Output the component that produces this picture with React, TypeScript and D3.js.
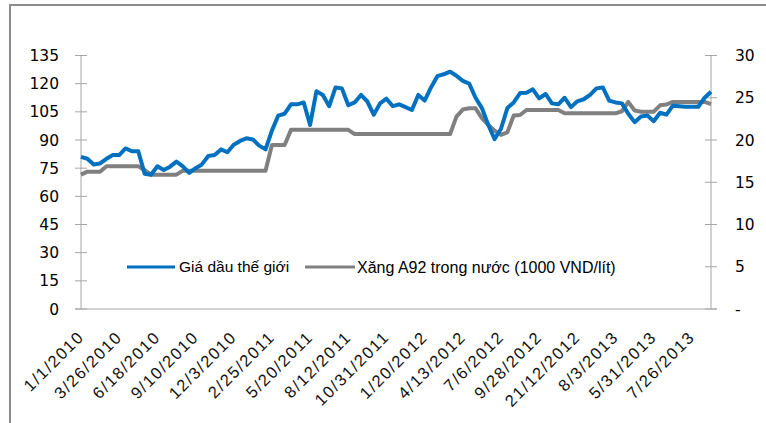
import React from 'react';
import * as d3 from 'd3';

// Category tick labels (every 6th point of the series)
const tickLabels = [
  '1/1/2010', '3/26/2010', '6/18/2010', '9/10/2010', '12/3/2010', '2/25/2011',
  '5/20/2011', '8/12/2011', '10/31/2011', '1/20/2012', '4/13/2012', '7/6/2012',
  '9/28/2012', '21/12/2012', '8/3/2013', '5/31/2013', '7/26/2013',
];
const labelStep = 6;

// Giá dầu thế giới (left axis)
const oilPrice = [
  81, 80, 77, 77.5, 80, 82, 82, 85.5, 84, 84,
  72, 71.5, 76, 74, 75.8, 78.5, 76, 72.5, 75, 77,
  81.5, 82, 85, 83.5, 87.5, 89.5, 90.9, 90.3, 87, 85,
  95, 103, 104, 109, 109, 110, 98, 116, 114, 108,
  118, 117.5, 108.5, 110, 114, 110.5, 103.5, 109.5, 112, 108,
  109, 107.5, 106, 114, 111, 118, 124, 125, 126.4, 124.2,
  121.5, 120, 112.5, 107, 98, 90.5, 96, 107, 110, 115,
  115.2, 117, 112.2, 114.5, 109.5, 109, 112.5, 107.5, 110.6, 111.7,
  114, 117.5, 118, 111, 110, 109.5, 104, 99.5, 102.5, 103,
  100, 104.5, 103.5, 108.3, 108, 107.7, 107.7, 107.7, 112.5, 115.7,
];

// Xăng A92 trong nước, 1000 VND/lít (right axis)
const gasPrice = [
  15.9, 16.25, 16.25, 16.25, 16.9, 16.9, 16.9, 16.9, 16.9, 16.9,
  16.45, 15.9, 15.9, 15.9, 15.9, 15.9, 16.37, 16.37, 16.37, 16.37,
  16.37, 16.37, 16.37, 16.37, 16.37, 16.37, 16.37, 16.37, 16.37, 16.37,
  19.4, 19.4, 19.4, 21.2, 21.2, 21.2, 21.2, 21.2, 21.2, 21.2,
  21.2, 21.2, 21.2, 20.7, 20.7, 20.7, 20.7, 20.7, 20.7, 20.7,
  20.7, 20.7, 20.7, 20.7, 20.7, 20.7, 20.7, 20.7, 20.7, 22.76,
  23.6, 23.75, 23.75, 22.6, 21.8, 21.1, 20.6, 20.9, 22.9, 22.96,
  23.55, 23.55, 23.55, 23.55, 23.55, 23.55, 23.16, 23.16, 23.16, 23.16,
  23.16, 23.16, 23.16, 23.16, 23.16, 23.4, 24.5, 23.5, 23.35, 23.35,
  23.35, 24.1, 24.2, 24.5, 24.5, 24.5, 24.5, 24.5, 24.5, 24.25,
];

const leftTicks = [0, 15, 30, 45, 60, 75, 90, 105, 120, 135];
const rightTicks = [0, 5, 10, 15, 20, 25, 30];

const seriesNames = ['Giá dầu thế giới', 'Xăng A92 trong nước (1000 VND/lít)'];
const colors = ['#0070C0', '#808080'];

export default function App() {
  const W = 766, H = 423;
  const x0 = 81, x1 = 711, yTop = 55.5, yBot = 309;
  const n = oilPrice.length;
  const x = d3.scaleLinear().domain([0, n - 1]).range([x0, x1]);
  const yL = d3.scaleLinear().domain([0, 135]).range([yBot, yTop]);
  const yR = d3.scaleLinear().domain([0, 30]).range([yBot, yTop]);

  const lineL = d3.line<number>().x((_, i) => x(i)).y(d => yL(d));
  const lineR = d3.line<number>().x((_, i) => x(i)).y(d => yR(d));

  const axisColor = '#a6a6a6';
  const numFont = 'DejaVu Sans, Verdana, sans-serif';
  const lblFont = 'Liberation Sans, Arial, sans-serif';

  return (
    <svg width={W} height={H} style={{ position: 'absolute', left: 0, top: 0, background: '#fff' }}>
      <rect x={0} y={0} width={W} height={H} fill="#fff" />
      {/* outer frame */}
      <rect x={10} y={5} width={900} height={600} fill="none" stroke="#8c8c8c" strokeWidth={2} />

      {/* left axis */}
      <line x1={x0} x2={x0} y1={yTop} y2={yBot} stroke={axisColor} strokeWidth={1} />
      {leftTicks.map(t => (
        <g key={'l' + t}>
          <line x1={x0 - 6} x2={x0 + 6} y1={yL(t)} y2={yL(t)} stroke={axisColor} />
          <text x={59} y={yL(t)} dy="0.36em" textAnchor="end" fontFamily={numFont} fontSize={15.5} fill="#000">{t}</text>
        </g>
      ))}

      {/* right axis */}
      <line x1={x1} x2={x1} y1={yTop} y2={yBot} stroke={axisColor} strokeWidth={1} />
      {rightTicks.map(t => (
        <g key={'r' + t}>
          <line x1={x1 - 6} x2={x1 + 6} y1={yR(t)} y2={yR(t)} stroke={axisColor} />
          <text x={735} y={yR(t)} dy="0.36em" textAnchor="start" fontFamily={numFont} fontSize={15.5} fill="#000">{t === 0 ? '-' : t}</text>
        </g>
      ))}

      {/* bottom axis */}
      <line x1={x0 - 6} x2={x1 + 6} y1={yBot} y2={yBot} stroke={axisColor} strokeWidth={1} />
      {tickLabels.map((lab, i) => {
        const tx = x(i * labelStep) + 4;
        const ty = 338;
        return (
          <text key={lab} x={tx} y={ty} textAnchor="end" transform={`rotate(-45 ${tx} ${ty})`}
            fontFamily={lblFont} fontSize={16.5} letterSpacing={1.6} fill="#111">{lab}</text>
        );
      })}

      {/* series */}
      <path d={lineR(gasPrice) || ''} fill="none" stroke={colors[1]} strokeWidth={4} strokeLinejoin="round" />
      <path d={lineL(oilPrice) || ''} fill="none" stroke={colors[0]} strokeWidth={4} strokeLinejoin="round" />

      {/* legend */}
      <line x1={127} x2={175} y1={267} y2={267} stroke={colors[0]} strokeWidth={3} />
      <text x={179} y={267} dy="0.35em" fontFamily={lblFont} fontSize={15.5} fill="#000">{seriesNames[0]}</text>
      <line x1={305} x2={355} y1={267} y2={267} stroke={colors[1]} strokeWidth={3} />
      <text x={357} y={267} dy="0.35em" fontFamily={lblFont} fontSize={16} fill="#000">{seriesNames[1]}</text>
    </svg>
  );
}
